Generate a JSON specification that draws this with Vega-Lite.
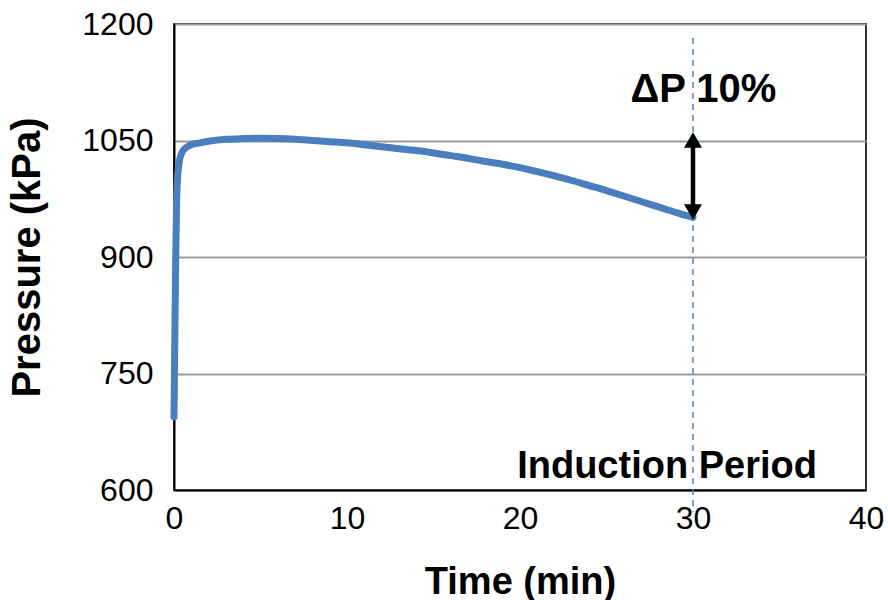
{
  "$schema": "https://vega.github.io/schema/vega-lite/v6.json",
  "width": 692,
  "height": 466,
  "autosize": {"type": "none"},
  "padding": {"left": 174, "top": 24, "right": 22, "bottom": 110},
  "background": "white",
  "config": {
    "font": "Liberation Sans",
    "view": {"stroke": "#333333", "strokeWidth": 2},
    "axis": {
      "labelFont": "Liberation Sans",
      "titleFont": "Liberation Sans",
      "labelColor": "#000000",
      "titleColor": "#000000",
      "domainColor": "#000000",
      "domainWidth": 2,
      "ticks": false
    }
  },
  "datasets": {
    "pressure": [
      {"time": 0, "pressure": 694},
      {"time": 0.05, "pressure": 800},
      {"time": 0.1, "pressure": 900},
      {"time": 0.15, "pressure": 970},
      {"time": 0.2, "pressure": 1000},
      {"time": 0.3, "pressure": 1022},
      {"time": 0.45, "pressure": 1034},
      {"time": 0.7, "pressure": 1041},
      {"time": 1.0, "pressure": 1044.5},
      {"time": 1.5, "pressure": 1047},
      {"time": 2, "pressure": 1049},
      {"time": 3, "pressure": 1051.5},
      {"time": 4, "pressure": 1052.5},
      {"time": 5, "pressure": 1053},
      {"time": 6, "pressure": 1052.5},
      {"time": 7, "pressure": 1051.5},
      {"time": 8, "pressure": 1050},
      {"time": 9, "pressure": 1048.5},
      {"time": 10, "pressure": 1047},
      {"time": 11, "pressure": 1044.5},
      {"time": 12, "pressure": 1042},
      {"time": 13, "pressure": 1039.5},
      {"time": 14, "pressure": 1037},
      {"time": 15, "pressure": 1034},
      {"time": 16, "pressure": 1030.5},
      {"time": 17, "pressure": 1027},
      {"time": 18, "pressure": 1023},
      {"time": 19, "pressure": 1019.5},
      {"time": 20, "pressure": 1015},
      {"time": 21, "pressure": 1010},
      {"time": 22, "pressure": 1004.5},
      {"time": 23, "pressure": 998.5},
      {"time": 24, "pressure": 992},
      {"time": 25, "pressure": 985.5},
      {"time": 26, "pressure": 978.5},
      {"time": 27, "pressure": 971.5},
      {"time": 28, "pressure": 964.5},
      {"time": 29, "pressure": 957.5},
      {"time": 30, "pressure": 951}
    ],
    "induction": [{"time": 30, "top": 1182, "bottom": 572}],
    "drop": [{"time": 30, "high": 1050, "low": 958}],
    "heads": [
      {"time": 30, "pressure": 1050.5, "dir": "triangle-up"},
      {"time": 30, "pressure": 958, "dir": "triangle-down"}
    ],
    "notes": [
      {"time": 30.6, "pressure": 1115, "label": "ΔP 10%", "size": 40},
      {"time": 28.5, "pressure": 630, "label": "Induction Period", "size": 38}
    ]
  },
  "layer": [
    {
      "data": {"name": "pressure"},
      "mark": {"type": "line", "color": "#4a7ebf", "strokeWidth": 7, "strokeCap": "round", "strokeJoin": "round", "interpolate": "monotone"},
      "encoding": {
        "x": {
          "field": "time",
          "type": "quantitative",
          "scale": {"domain": [0, 40], "nice": false},
          "axis": {
            "values": [0, 10, 20, 30, 40],
            "format": "d",
            "title": "Time (min)",
            "labelFontSize": 32,
            "labelPadding": 13,
            "labelFlush": false,
            "titleFontSize": 38,
            "titleFontWeight": "bold",
            "titlePadding": 29,
            "grid": false
          }
        },
        "y": {
          "field": "pressure",
          "type": "quantitative",
          "scale": {"domain": [600, 1200], "nice": false, "zero": false},
          "axis": {
            "values": [600, 750, 900, 1050, 1200],
            "format": "d",
            "title": "Pressure (kPa)",
            "labelFontSize": 32,
            "labelPadding": 21,
            "titleFontSize": 40,
            "titleFontWeight": "bold",
            "titlePadding": 34,
            "grid": true,
            "gridColor": "#999999",
            "gridWidth": 2
          }
        }
      }
    },
    {
      "data": {"name": "induction"},
      "mark": {"type": "rule", "color": "#4f81bd", "strokeWidth": 1.5, "strokeDash": [6, 5], "clip": false},
      "encoding": {
        "x": {"field": "time", "type": "quantitative"},
        "y": {"field": "top", "type": "quantitative"},
        "y2": {"field": "bottom"}
      }
    },
    {
      "data": {"name": "drop"},
      "mark": {"type": "rule", "color": "#000000", "strokeWidth": 4.5},
      "encoding": {
        "x": {"field": "time", "type": "quantitative"},
        "y": {"field": "high", "type": "quantitative"},
        "y2": {"field": "low"}
      }
    },
    {
      "data": {"name": "heads"},
      "mark": {"type": "point", "filled": true, "color": "#000000", "size": 320, "opacity": 1},
      "encoding": {
        "x": {"field": "time", "type": "quantitative"},
        "y": {"field": "pressure", "type": "quantitative"},
        "shape": {"field": "dir", "type": "nominal", "scale": null, "legend": null}
      }
    },
    {
      "data": {"name": "notes"},
      "mark": {"type": "text", "font": "Liberation Sans", "fontWeight": "bold", "color": "#000000", "align": "center", "baseline": "middle"},
      "encoding": {
        "x": {"field": "time", "type": "quantitative"},
        "y": {"field": "pressure", "type": "quantitative"},
        "text": {"field": "label"},
        "size": {"field": "size", "type": "quantitative", "scale": null, "legend": null}
      }
    }
  ]
}
